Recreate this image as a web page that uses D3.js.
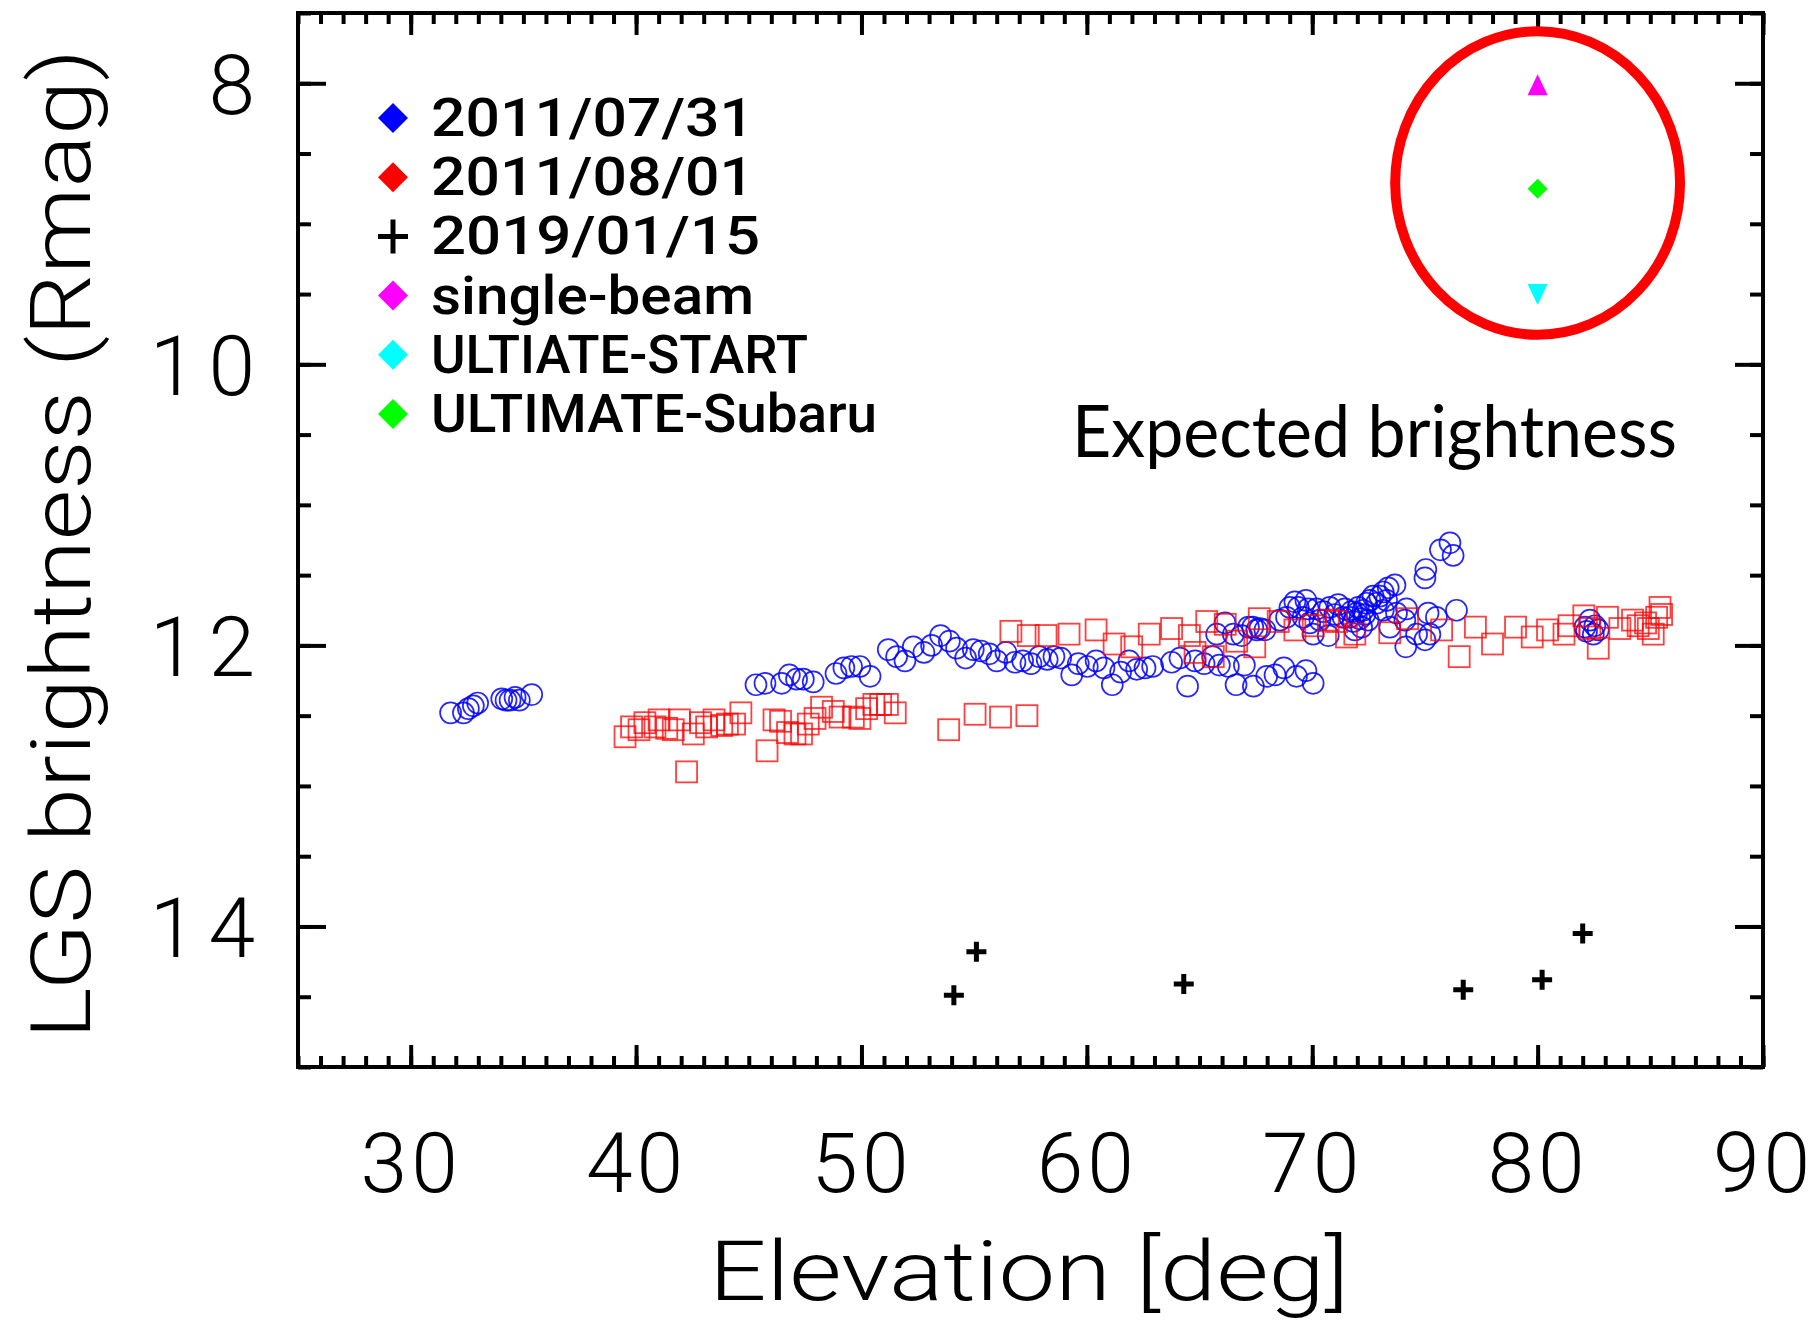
<!DOCTYPE html>
<html>
<head>
<meta charset="utf-8">
<script src="https://cdn.jsdelivr.net/npm/d3@7"></script>
<style>
  html, body { margin: 0; padding: 0; background: #fff; }
  svg { display: block; }
</style>
</head>
<body>
<svg width="1820" height="1324"></svg>
<script>
// [elevation deg, R mag]
const jul31 = [
  [31.77,12.48],[32.34,12.48],[32.56,12.45],[32.78,12.43],[32.97,12.41],
  [34.04,12.38],[34.23,12.39],[34.41,12.39],[34.63,12.37],[34.82,12.39],[35.37,12.35],
  [45.32,12.28],[45.72,12.27],[46.46,12.27],[46.80,12.21],[47.12,12.24],[47.42,12.24],[47.86,12.26],
  [48.87,12.20],[49.22,12.16],[49.56,12.15],[49.93,12.15],[50.38,12.22],
  [51.19,12.03],[51.56,12.08],[51.93,12.11],[52.30,12.01],[52.77,12.05],[53.11,12.00],[53.51,11.93],
  [53.90,11.97],[54.22,12.02],[54.62,12.09],[54.96,12.03],[55.30,12.04],[55.67,12.06],[56.00,12.11],
  [56.41,12.05],[56.81,12.12],[57.15,12.11],[57.52,12.13],[57.89,12.08],[58.24,12.10],[58.54,12.08],[58.84,12.09],
  [59.33,12.21],[59.62,12.13],[60.02,12.15],[60.41,12.11],[60.76,12.16],[61.13,12.28],[61.50,12.19],
  [61.87,12.11],[62.21,12.17],[62.58,12.16],[62.92,12.15],[63.76,12.12],[64.13,12.09],[64.47,12.29],
  [64.80,12.11],[65.20,12.13],[65.58,12.08],[65.76,11.92],[65.88,12.14],[66.13,11.84],[66.28,12.15],
  [66.50,11.92],[66.62,12.28],[66.87,11.93],[66.99,12.14],[67.17,11.87],[67.36,11.87],[67.39,12.29],
  [67.54,11.89],[67.68,11.88],[67.90,11.89],[67.98,12.22],[68.35,12.21],
  [68.56,11.82],[68.74,12.16],[68.86,11.80],[69.01,11.73],[69.23,11.69],[69.30,12.22],[69.38,11.73],
  [69.60,11.80],[69.72,11.68],[69.72,12.18],[69.82,11.74],[69.89,11.84],[70.04,11.92],[70.04,12.27],
  [70.19,11.74],[70.34,11.82],[70.49,11.76],[70.71,11.93],[70.78,11.73],[71.00,11.78],[71.15,11.71],
  [71.37,11.80],[71.45,11.74],[71.67,11.80],[71.74,11.76],[71.82,11.83],[71.89,11.89],[71.97,11.77],
  [72.04,11.73],[72.11,11.81],[72.19,11.87],[72.26,11.75],[72.33,11.78],[72.41,11.70],[72.48,11.82],
  [72.56,11.68],[72.70,11.65],[72.85,11.70],[73.00,11.65],[73.15,11.62],[73.15,11.75],[73.30,11.68],
  [73.37,11.59],[73.44,11.87],[73.67,11.57],[73.74,11.77],[74.11,11.82],[74.15,12.01],[74.18,11.74],
  [74.63,11.92],[75.00,11.52],[75.00,11.96],[75.04,11.46],[75.14,11.77],[75.22,11.92],[75.51,11.80],
  [75.69,11.32],[76.11,11.27],[76.25,11.36],[76.40,11.75],
  [82.10,11.87],[82.17,11.90],[82.32,11.82],[82.47,11.92],[82.54,11.86],[82.69,11.89]
]

const aug01 = [
  [39.51,12.65],[39.80,12.58],[40.13,12.60],[40.39,12.55],[40.84,12.58],[41.02,12.53],[41.36,12.59],
  [41.65,12.60],[41.92,12.53],[42.24,12.90],[42.54,12.63],[42.86,12.55],[43.13,12.58],[43.46,12.53],
  [43.80,12.57],[44.05,12.56],[44.37,12.56],[44.65,12.48],[45.81,12.75],[46.12,12.53],[46.41,12.54],
  [46.72,12.62],[47.05,12.63],[47.34,12.63],[47.64,12.56],[47.94,12.52],[48.23,12.44],[48.75,12.47],
  [49.05,12.51],[49.64,12.51],[49.93,12.52],[50.23,12.45],[50.55,12.42],[50.85,12.42],[51.15,12.42],
  [51.50,12.48],[53.87,12.60],[55.04,12.49],[56.17,12.51],[57.34,12.50],[56.63,11.90],[57.40,11.93],
  [58.19,11.93],[59.21,11.92],[60.41,11.89],[61.21,11.99],[61.99,12.01],[62.77,11.92],[63.76,11.88],
  [64.55,11.93],[64.80,12.05],[65.32,11.83],[65.61,12.08],[66.14,11.85],[66.65,11.97],[67.45,12.01],
  [67.65,11.81],[68.49,11.83],[69.23,11.89],[70.04,11.86],[70.71,11.82],[71.08,11.83],[71.52,11.94],
  [71.89,11.92],[73.44,11.91],[74.23,11.81],[75.74,11.89],[76.52,12.08],[77.24,11.87],[78.00,11.99],
  [79.02,11.87],[79.76,11.94],[80.44,11.89],[81.17,11.92],[81.39,11.86],[82.05,11.79],[82.32,11.88],
  [82.69,12.02],[83.10,11.80],[83.65,11.88],[84.21,11.82],[84.46,11.86],[84.79,11.84],[84.91,11.88],
  [85.13,11.92],[85.28,11.80],[85.43,11.73],[85.50,11.78]
]

const jan15 = [[54.1,14.49],[55.1,14.18],[64.3,14.41],[76.7,14.45],[80.2,14.38],[82.0,14.05]]

// expected brightness at 80 deg
const singleBeam = [[80, 8.0]]
const ultimateSubaru = [[80, 8.75]]
const ultiateStart = [[80, 9.5]]
const expectedEllipse = {cx: 80, cy: 8.71, rx: 6.32, ry: 1.08}

const legendLabels = ['2011/07/31', '2011/08/01', '2019/01/15', 'single-beam', 'ULTIATE-START', 'ULTIMATE-Subaru']
const legendColors = ['#0000ff', '#ff0000', '#000', '#ff00ff', '#00ffff', '#00ff00']
const legendWidths = [323, 323, 329, 323, 377, 446]

const xTicks = [30, 40, 50, 60, 70, 80, 90]
const yTicks = [8, 10, 12, 14]

const svg = d3.select('svg')
const margin = {top: 13, right: 57, bottom: 257, left: 298},
    width = 1820 - margin.left - margin.right,
    height = 1324 - margin.top - margin.bottom

const x = d3.scaleLinear().domain([25, 90]).range([margin.left, margin.left + width])
const y = d3.scaleLinear().domain([7.5, 15]).range([margin.top, margin.top + height])

const plotFont = 'Roboto, "DejaVu Sans", sans-serif'

// axes: minor + major ticks on all four sides, pointing inward
const axisG = svg.append('g')
const addAxis = (axis, tr) => {
    const g = axisG.append('g').attr('transform', tr).call(axis)
    g.select('.domain').remove()
    g.selectAll('line').attr('stroke', '#000').attr('stroke-width', 4)
    return g
}
const xMinor = d3.range(25, 91, 1), yMinor = d3.range(7.5, 15.01, 0.5)

addAxis(d3.axisBottom(x).tickValues(xMinor).tickSize(-11).tickFormat(''), `translate(0,${y(15)})`)
addAxis(d3.axisTop(x).tickValues(xMinor).tickSize(-11).tickFormat(''), `translate(0,${y(7.5)})`)
addAxis(d3.axisTop(x).tickValues(xTicks).tickSize(-22).tickFormat(''), `translate(0,${y(7.5)})`)
const xAx = addAxis(d3.axisBottom(x).tickValues(xTicks).tickSize(-22), `translate(0,${y(15)})`)
xAx.selectAll('text')
    .attr('y', 125).attr('dy', 0)
    .attr('font-family', plotFont).attr('font-weight', 300).attr('font-size', 84).attr('fill', '#000')
    .attr('letter-spacing', 4)

addAxis(d3.axisLeft(y).tickValues(yMinor).tickSize(-13).tickFormat(''), `translate(${x(25)},0)`)
addAxis(d3.axisRight(y).tickValues(yMinor).tickSize(-13).tickFormat(''), `translate(${x(90)},0)`)
addAxis(d3.axisRight(y).tickValues(yTicks).tickSize(-28).tickFormat(''), `translate(${x(90)},0)`)
const yAx = addAxis(d3.axisLeft(y).tickValues(yTicks).tickSize(-28), `translate(${x(25)},0)`)
yAx.selectAll('text')
    .attr('x', -31).attr('dy', '0.36em')
    .attr('font-family', plotFont).attr('font-weight', 300).attr('font-size', 84).attr('fill', '#000')
    .attr('letter-spacing', 12)

// frame
svg.append('rect')
    .attr('x', x(25)).attr('y', y(7.5))
    .attr('width', x(90) - x(25)).attr('height', y(15) - y(7.5))
    .attr('fill', 'none').attr('stroke', '#000').attr('stroke-width', 4)

// axis titles
svg.append('text')
    .text('Elevation [deg]')
    .attr('x', 1029).attr('y', 1300)
    .attr('text-anchor', 'middle')
    .attr('font-family', plotFont).attr('font-weight', 300).attr('font-size', 84)
    .attr('textLength', 640).attr('lengthAdjust', 'spacingAndGlyphs')

svg.append('text')
    .text('LGS brightness (Rmag)')
    .attr('transform', 'translate(90,544) rotate(-90)')
    .attr('text-anchor', 'middle')
    .attr('font-family', plotFont).attr('font-weight', 300).attr('font-size', 84)
    .attr('textLength', 990).attr('lengthAdjust', 'spacingAndGlyphs')

// points
const plot = svg.append('g')
plot.selectAll('.c31').data(jul31).enter().append('circle')
    .attr('cx', d => x(d[0])).attr('cy', d => y(d[1])).attr('r', 10.5)
    .attr('fill', 'none').attr('stroke', '#0000ff').attr('stroke-width', 1.7).attr('stroke-opacity', 0.85)

plot.selectAll('.s01').data(aug01).enter().append('rect')
    .attr('x', d => x(d[0]) - 10.5).attr('y', d => y(d[1]) - 10.5)
    .attr('width', 21).attr('height', 21)
    .attr('fill', 'none').attr('stroke', '#ff0000').attr('stroke-width', 1.8).attr('stroke-opacity', 0.75)

plot.selectAll('.p15').data(jan15).enter().append('path')
    .attr('transform', d => `translate(${x(d[0])},${y(d[1])})`)
    .attr('d', 'M-10,0H10M0,-10V10')
    .attr('stroke', '#000').attr('stroke-width', 5)

// expected brightness
plot.selectAll('.sb').data(singleBeam).enter().append('path')
    .attr('transform', d => `translate(${x(d[0])},${y(d[1]) + 2})`)
    .attr('d', 'M0,-11L10,10L-10,10Z').attr('fill', '#ff00ff')
plot.selectAll('.us').data(ultiateStart).enter().append('path')
    .attr('transform', d => `translate(${x(d[0])},${y(d[1])})`)
    .attr('d', 'M0,11L10,-10L-10,-10Z').attr('fill', '#00ffff')
plot.selectAll('.usu').data(ultimateSubaru).enter().append('path')
    .attr('transform', d => `translate(${x(d[0])},${y(d[1])})`)
    .attr('d', 'M0,-10L10,0L0,10L-10,0Z').attr('fill', '#00ff00')

svg.append('ellipse')
    .attr('cx', x(expectedEllipse.cx)).attr('cy', y(expectedEllipse.cy))
    .attr('rx', x(expectedEllipse.cx + expectedEllipse.rx) - x(expectedEllipse.cx))
    .attr('ry', y(expectedEllipse.cy + expectedEllipse.ry) - y(expectedEllipse.cy))
    .attr('fill', 'none').attr('stroke', '#ff0000').attr('stroke-width', 10)

svg.append('text')
    .text('Expected brightness')
    .attr('x', 1072).attr('y', 457)
    .attr('font-family', 'Lato, "Open Sans", sans-serif').attr('font-size', 72)
    .attr('textLength', 605).attr('lengthAdjust', 'spacingAndGlyphs')

// legend
const legend = svg.append('g').attr('transform', 'translate(393,118)')
const rows = legend.selectAll('g').data(legendLabels).enter().append('g')
    .attr('transform', (d, i) => `translate(0,${i * 59.2})`)
rows.append('path')
    .attr('d', (d, i) => i === 2 ? 'M-15,0H15M0,-17V17' : 'M0,-15L15,0L0,15L-15,0Z')
    .attr('fill', (d, i) => i === 2 ? 'none' : legendColors[i])
    .attr('stroke', (d, i) => i === 2 ? '#000' : 'none')
    .attr('stroke-width', 5)
rows.append('text')
    .text(d => d)
    .attr('x', 38).attr('y', 18)
    .attr('font-family', plotFont).attr('font-weight', 500).attr('font-size', 53)
    .attr('textLength', (d, i) => legendWidths[i]).attr('lengthAdjust', 'spacingAndGlyphs')
</script>
</body>
</html>
